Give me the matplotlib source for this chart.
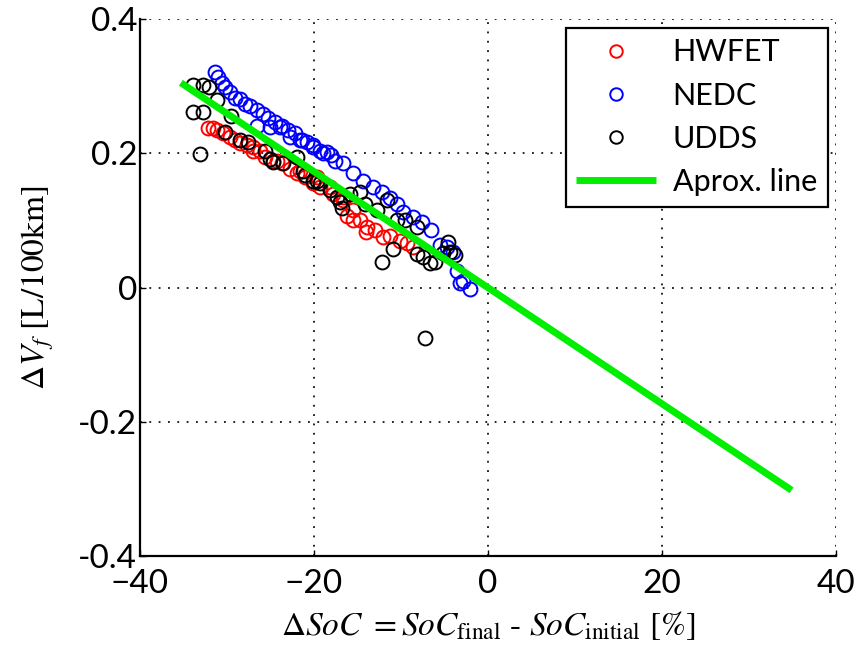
import numpy as np
import matplotlib
matplotlib.use('Agg')
import matplotlib.pyplot as plt

# HWFET cycle
hw_x = [-32.2, -31.6, -31.2, -30.5, -29.7, -29.1, -28.5, -27.7, -27.0, -26.2,
        -25.6, -24.7, -23.7, -22.8, -22.0, -21.0, -20.1, -19.3, -17.8, -16.7,
        -27.0, -24.3, -21.6, -19.7, -18.2, -16.7, -15.5, -14.7, -13.9, -13.0,
        -12.1, -11.3, -10.1, -9.3, -8.6, -15.5, -16.2, -14.0]
hw_y = [0.237, 0.237, 0.234, 0.230, 0.224, 0.219, 0.215, 0.212, 0.209, 0.204,
        0.194, 0.189, 0.185, 0.177, 0.170, 0.164, 0.155, 0.149, 0.140, 0.135,
        0.204, 0.189, 0.174, 0.164, 0.149, 0.130, 0.115, 0.100, 0.090, 0.085,
        0.075, 0.077, 0.070, 0.066, 0.060, 0.100, 0.107, 0.082]

# NEDC cycle
ne_x = [-31.4, -31.0, -30.6, -30.2, -29.7, -29.1, -28.5, -27.9, -27.4, -26.6,
        -25.9, -25.3, -24.5, -23.7, -23.0, -22.2, -21.4, -20.8, -20.1, -19.3,
        -18.5, -18.0, -26.6, -25.1, -23.9, -22.8, -21.6, -20.1, -19.0, -17.6,
        -16.7, -15.5, -14.4, -13.2, -12.2, -11.3, -10.5, -9.8, -8.6, -7.6,
        -6.5, -5.5, -4.7, -4.0, -3.6, -3.2, -2.9, -2.1]
ne_y = [0.321, 0.313, 0.304, 0.299, 0.291, 0.283, 0.281, 0.274, 0.271, 0.264,
        0.259, 0.253, 0.246, 0.241, 0.234, 0.230, 0.219, 0.217, 0.212, 0.204,
        0.202, 0.197, 0.241, 0.239, 0.239, 0.224, 0.219, 0.209, 0.200, 0.189,
        0.185, 0.170, 0.159, 0.149, 0.142, 0.133, 0.125, 0.112, 0.105, 0.097,
        0.085, 0.063, 0.060, 0.053, 0.025, 0.006, 0.010, -0.002]

# UDDS cycle
ud_x = [-33.9, -32.7, -32.1, -33.9, -32.7, -31.2, -30.2, -28.5, -27.6, -33.1,
        -24.7, -25.6, -23.6, -21.3, -20.1, -19.3, -18.2, -17.4, -25.1, -21.0,
        -19.7, -17.0, -16.8, -15.9, -14.7, -14.1, -12.8, -11.6, -10.5, -9.5,
        -8.2, -8.2, -7.5, -6.7, -12.2, -10.9, -6.1, -4.6, -4.4, -3.8,
        -5.2, -7.2, -29.5, -22.0]
ud_y = [0.301, 0.301, 0.299, 0.261, 0.261, 0.279, 0.231, 0.219, 0.217, 0.199,
        0.187, 0.204, 0.185, 0.174, 0.159, 0.155, 0.145, 0.135, 0.192, 0.167,
        0.159, 0.127, 0.118, 0.140, 0.142, 0.125, 0.115, 0.130, 0.100, 0.100,
        0.090, 0.050, 0.045, 0.036, 0.038, 0.058, 0.038, 0.068, 0.053, 0.048,
        0.051, -0.075, 0.255, 0.195]

# approximation line
line_x = [-35.3, 34.9]
line_y = [0.305, -0.302]

xticks = [-40, -20, 0, 20, 40]
yticks = [-0.4, -0.2, 0, 0.2, 0.4]
ytick_labels = ['-0.4', '-0.2', '0', '0.2', '0.4']

plt.rcParams['mathtext.fontset'] = 'stix'

fig = plt.figure(figsize=(8.62, 6.57), dpi=100)
ax = fig.add_axes([0.1624, 0.1537, 0.8074, 0.8174])

mk = dict(marker='o', ls='none', ms=10, mfc='none', mew=1.4)
ax.plot(hw_x, hw_y, mec='#ff0000', label='HWFET', **mk)
ax.plot(ne_x, ne_y, mec='#0000ff', label='NEDC', **mk)
ax.plot(ud_x, ud_y, mec='black', label='UDDS', **mk)
ax.plot(line_x, line_y, color='#00ee00', lw=5, solid_capstyle='butt',
        label='Aprox. line')

ax.set_xlim(-40, 40)
ax.set_ylim(-0.4, 0.4)
ax.set_xticks(xticks)
ax.set_yticks(yticks)
ax.set_yticklabels(ytick_labels)

ax.grid(True, color='black', lw=1.2, linestyle=(0, (1.1, 4.5)))
ax.set_axisbelow(True)

for s in ['top', 'right']:
    ax.spines[s].set_visible(False)
for s in ['left', 'bottom']:
    ax.spines[s].set_linewidth(1.6)

ax.tick_params(direction='in', length=4, width=1, labelsize=24)
ax.tick_params(axis='y', pad=2)
ax.tick_params(axis='x', pad=9)
for lbl in ax.get_xticklabels() + ax.get_yticklabels():
    lbl.set_fontfamily('Lato')

ax.set_xlabel(r'$\Delta SoC\ = SoC_{\mathrm{final}}$ - $SoC_{\mathrm{initial}}$ [%]',
              fontsize=24, fontfamily='STIXGeneral', labelpad=8)
ax.set_ylabel(r'$\Delta V_f$ [L/100km]', fontsize=24,
              fontfamily='STIXGeneral', labelpad=16)

leg = ax.legend(loc='upper right', bbox_to_anchor=(0.988, 0.984),
                borderaxespad=0, numpoints=1, handlelength=2.6,
                markerscale=0.9, handletextpad=0.55, labelspacing=0.5,
                borderpad=0.35, fancybox=False, framealpha=1,
                edgecolor='black', prop={'family': 'Lato', 'size': 22})
leg.get_frame().set_linewidth(1.6)

fig.savefig('out.png', dpi=100)
